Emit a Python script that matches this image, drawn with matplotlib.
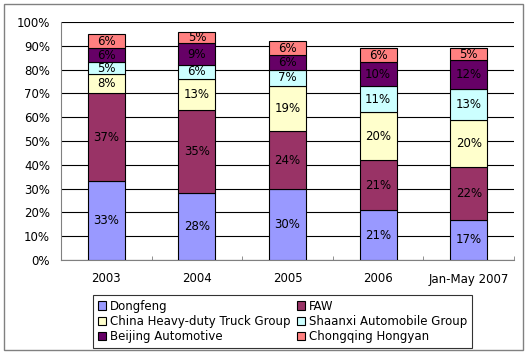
import numpy as np
import matplotlib
matplotlib.use('Agg')
import matplotlib.pyplot as plt
from matplotlib.patches import Rectangle

years = ['2003', '2004', '2005', '2006', 'Jan-May 2007']
makers = ['Dongfeng', 'FAW', 'China Heavy-duty Truck Group',
          'Shaanxi Automobile Group', 'Beijing Automotive', 'Chongqing Hongyan']
dongfeng = [33, 28, 30, 21, 17]
faw = [37, 35, 24, 21, 22]
chdt = [8, 13, 19, 20, 20]
shaanxi = [5, 6, 7, 11, 13]
beijing = [6, 9, 6, 10, 12]
chongqing = [6, 5, 6, 6, 5]
colors = ['#9999FF', '#993366', '#FFFFCC', '#CCFFFF', '#660066', '#FF8080']

plt.rcParams['font.family'] = ['DejaVu Sans']
plt.rcParams['font.size'] = 8.5

fig = plt.figure(figsize=(5.3, 3.56), dpi=100)
ax = fig.add_axes([61/530, 1 - 260/356, (514-61)/530, (260-22)/356])

# outer chart frame
fig.patches.append(Rectangle((4/530, 6/356), 519/530, 346/356, transform=fig.transFigure,
                             fill=False, edgecolor='#808080', lw=1))

x = np.arange(len(years))
bottom = np.zeros(len(years))
series = [dongfeng, faw, chdt, shaanxi, beijing, chongqing]
handles = []
for name, vals, c in zip(makers, series, colors):
    vals = np.array(vals)
    h = ax.bar(x, vals, 0.41, bottom=bottom, color=c, edgecolor='black', lw=0.8,
               label=name, zorder=3)
    handles.append(h)
    for xi, b, v in zip(x, bottom, vals):
        ax.text(xi, b + v / 2, f'{v}%', ha='center', va='center', fontsize=8.5,
                color='black', zorder=4)
    bottom += vals

ax.set_xlim(-0.5, len(years) - 0.5)
ax.set_ylim(0, 100)
ax.set_yticks(range(0, 101, 10))
ax.set_yticklabels([f'{v}%' for v in range(0, 101, 10)])
ax.yaxis.grid(True, color='black', lw=0.8, zorder=0)
ax.set_xticks(x)
ax.set_xticklabels(years)
ax.set_xticks(np.arange(-0.5, len(years)), minor=True)
ax.tick_params(axis='x', which='major', length=0, pad=9)
ax.tick_params(axis='x', which='minor', length=3, color='#808080', direction='in')
ax.tick_params(axis='y', length=0, pad=8)
for s in ['top', 'right']:
    ax.spines[s].set_visible(False)
ax.spines['left'].set_color('#808080')
ax.spines['bottom'].set_color('#808080')

# legend is filled row by row in the original
order = [0, 2, 4, 1, 3, 5]
leg = fig.legend([handles[i] for i in order], [makers[i] for i in order],
                 loc='upper center', bbox_to_anchor=(282.5/530, 1 - 295/356),
                 ncol=2, frameon=True, fancybox=False, edgecolor='black',
                 handlelength=0.7, handleheight=0.7, handletextpad=0.35, columnspacing=0.5,
                 labelspacing=0.2, borderpad=0.4, fontsize=8.5, borderaxespad=0)
leg.get_frame().set_linewidth(0.8)

fig.savefig('out.png', dpi=100)
